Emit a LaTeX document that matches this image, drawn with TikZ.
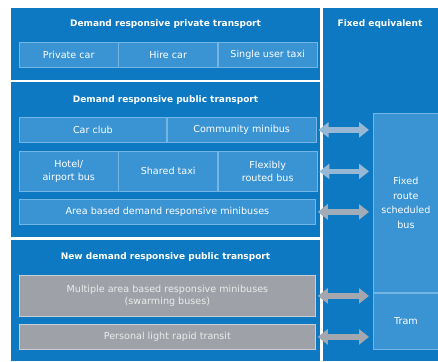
\documentclass[tikz,border=0pt]{standalone}
\usepackage{fontspec}
\setmainfont{DejaVu Sans}
\usetikzlibrary{arrows.meta,positioning}
\definecolor{panel blue}{RGB}{12,121,194}
\definecolor{cell blue}{RGB}{58,148,212}
\definecolor{cell line}{RGB}{115,182,230}
\definecolor{cell grey}{RGB}{158,162,168}
\definecolor{grey line}{RGB}{200,206,212}
\definecolor{arrow blue}{RGB}{150,184,212}
\definecolor{arrow grey}{RGB}{164,168,174}

\begin{document}
\begin{tikzpicture}
    [x=1pt, y=-1pt,
    font=\fontsize{9.6}{12.5}\selectfont,
    panel/.style = {fill=panel blue, draw=none},
    heading/.style = {text=white, font=\fontsize{9}{10}\selectfont\bfseries},
    cell/.style = {shape=rectangle, draw=cell line, fill=cell blue, text=white, align=center,
      inner sep=0pt, minimum height=25pt, minimum width=98.67pt, line width=0.8pt},
    grey cell/.style = {cell, draw=grey line, fill=cell grey, text=white!92!black},
    fixed/.style = {shape=rectangle, draw=cell line, fill=cell blue, text=white, align=center,
      inner sep=0pt, minimum width=65pt, line width=0.8pt, font=\fontsize{9.6}{14.5}\selectfont},
    link/.style = {{Triangle[length=10pt,width=15pt]}-{Triangle[length=10pt,width=15pt]},
      line width=5.5pt, arrow blue, shorten <=2pt, shorten >=4pt}]

    \useasboundingbox (0,0) rectangle (438,361);
    \fill[white] (0,0) rectangle (438,361);

    % the four panels
    \path[panel] (11,8) rectangle (320,80);
    \path[panel] (11,82) rectangle (320,237);
    \path[panel] (11,240) rectangle (320,361);
    \path[panel] (323,8) rectangle (438,361);

    \node [heading] (private head) at (165.5,24) {Demand responsive private transport};
    \node [heading] (public head) at (165.5,100) {Demand responsive public transport};
    \node [heading] (new head) at (165.5,257) {New demand responsive public transport};
    \node [heading] (fixed head) at (380,24) {Fixed equivalent};

    % private transport
    \node [cell, anchor=north west] (private car) at (19,42) {Private car};
    \node [cell, right=0pt of private car] (hire car) {Hire car};
    \node [cell, right=0pt of hire car] (single taxi) {Single user taxi};

    % public transport
    \node [cell, anchor=north west, minimum width=147pt] (car club) at (19,117) {Car club};
    \node [cell, right=0pt of car club, minimum width=149pt] (community) {Community minibus};
    \node [cell, anchor=north west, minimum height=40pt] (hotel bus) at (19,151) {Hotel/\\airport bus};
    \node [cell, right=0pt of hotel bus, minimum height=40pt] (shared taxi) {Shared taxi};
    \node [cell, right=0pt of shared taxi, minimum height=40pt] (flexible bus) {Flexibly\\routed bus};
    \node [cell, anchor=north west, minimum width=296pt] (area minibus) at (19,199) {Area based demand responsive minibuses};

    % new public transport
    \node [grey cell, anchor=north west, minimum width=296pt, minimum height=41pt] (swarming) at (19,275)
      {Multiple area based responsive minibuses\\(swarming buses)};
    \node [grey cell, anchor=north west, minimum width=296pt] (prt) at (19,324) {Personal light rapid transit};

    % fixed equivalents
    \node [fixed, anchor=north west, minimum height=179pt] (fixed bus) at (373,113) {Fixed\\route\\scheduled\\bus};
    \node [fixed, below=0pt of fixed bus, minimum height=56pt] (tram) {Tram};

    \draw [link] (community.east) -- (fixed bus.west |- community.east);
    \draw [link] (flexible bus.east) -- (fixed bus.west |- flexible bus.east);
    \draw [link, arrow grey!70!arrow blue] (area minibus.east) -- (fixed bus.west |- area minibus.east);
    \draw [link, arrow grey] (swarming.east) -- (fixed bus.west |- swarming.east);
    \draw [link, arrow grey] (prt.east) -- (tram.west |- prt.east);
\end{tikzpicture}
\end{document}
